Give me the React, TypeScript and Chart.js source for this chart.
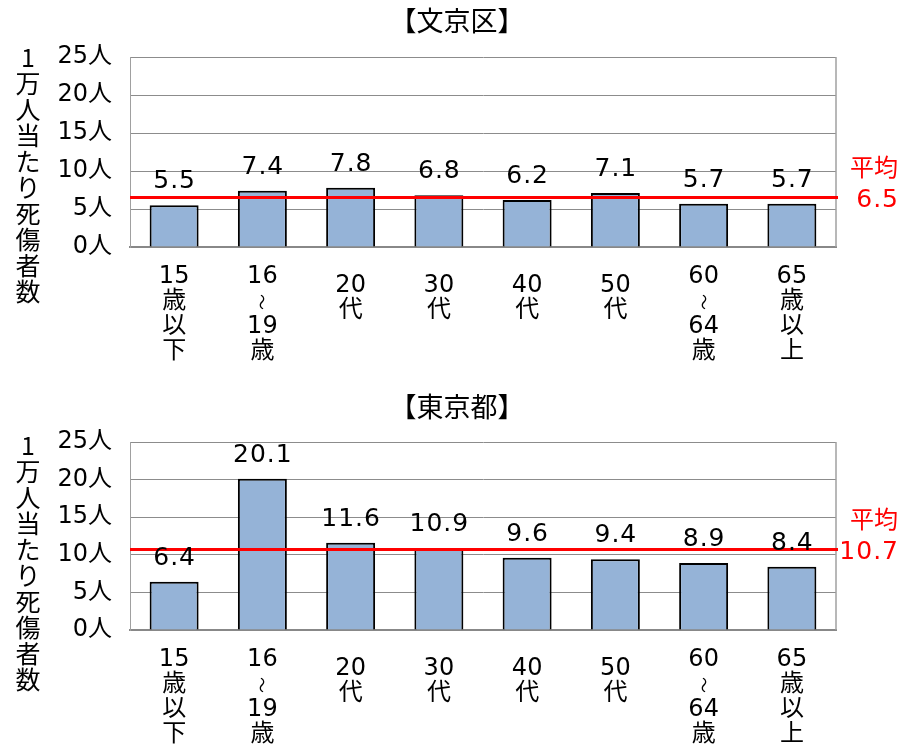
import React, { useEffect, useRef } from "react";
import { Chart, registerables } from "chart.js";

Chart.register(...registerables);

// ---- data ----
const categories: string[][] = [
  ["15", "歳", "以", "下"],
  ["16", "～", "19", "歳"],
  ["20", "代"],
  ["30", "代"],
  ["40", "代"],
  ["50", "代"],
  ["60", "～", "64", "歳"],
  ["65", "歳", "以", "上"],
];
const bunkyoValues = [5.5, 7.4, 7.8, 6.8, 6.2, 7.1, 5.7, 5.7];
const tokyoValues = [6.4, 20.1, 11.6, 10.9, 9.6, 9.4, 8.9, 8.4];
const bunkyoAverage = 6.5;
const tokyoAverage = 10.7;
const yTickValues = [0, 5, 10, 15, 20, 25];
const yTickUnit = "人";
const yTitleChars = ["1", "万", "人", "当", "た", "り", "死", "傷", "者", "数"];
const averageLabel = "平均";
const bunkyoTitle = "【文京区】";
const tokyoTitle = "【東京都】";

// ---- styles ----
const W = 902;
const LATIN = '"DejaVu Sans", "Noto Sans CJK JP", sans-serif';
const CJK = '"Noto Sans CJK JP", sans-serif';
const TEXT = "#000000";
const RED = "#FF0000";

type PanelProps = {
  title: string;
  values: number[];
  average: number;
  height: number;
  plotTop: number;
  plotBottom: number;
  titleY: number;
  yTitleY: number;
};

function drawSpaced(ctx: any, text: string, x: number, y: number, spacing: number) {
  ctx.save();
  ctx.letterSpacing = `${spacing}px`;
  let dx = 0;
  if (ctx.textAlign === "center") dx = spacing / 2;
  if (ctx.textAlign === "right") dx = spacing;
  ctx.fillText(text, x + dx, y);
  ctx.restore();
}

function Panel(p: PanelProps) {
  const ref = useRef<HTMLCanvasElement | null>(null);
  useEffect(() => {
    const canvas = ref.current;
    if (!canvas) return;
    const extras = {
      id: "extras",
      beforeDatasetsDraw(chart: any) {
        const { ctx, chartArea } = chart;
        ctx.save();
        ctx.strokeStyle = "#A0A0A0";
        ctx.lineWidth = 1.5;
        ctx.beginPath();
        ctx.moveTo(chartArea.right, chartArea.top);
        ctx.lineTo(chartArea.right, chartArea.bottom);
        ctx.stroke();
        ctx.restore();
      },
      afterDatasetsDraw(chart: any) {
        const { ctx, chartArea } = chart;
        const yScale = chart.scales.y;
        const xScale = chart.scales.x;
        ctx.save();
        // average line
        const ly = yScale.getPixelForValue(p.average);
        ctx.strokeStyle = RED;
        ctx.lineWidth = 3;
        ctx.beginPath();
        ctx.moveTo(chartArea.left, ly);
        ctx.lineTo(chartArea.right + 2, ly);
        ctx.stroke();
        // average labels
        ctx.fillStyle = RED;
        ctx.textAlign = "right";
        ctx.textBaseline = "middle";
        ctx.font = `24px ${CJK}`;
        ctx.fillText(averageLabel, 898, ly - 31);
        ctx.textBaseline = "alphabetic";
        ctx.font = `25px ${LATIN}`;
        drawSpaced(ctx, p.average.toFixed(1), 898, ly + 9, 1);
        // data labels
        const meta = chart.getDatasetMeta(0);
        ctx.fillStyle = TEXT;
        ctx.textAlign = "center";
        ctx.textBaseline = "alphabetic";
        ctx.font = `25px ${LATIN}`;
        meta.data.forEach((el: any, i: number) => {
          drawSpaced(ctx, p.values[i].toFixed(1), el.x, el.y - 17, 1);
        });
        // x labels (vertical stacked)
        categories.forEach((lines, i) => {
          const x = xScale.getPixelForTick(i);
          const start = chartArea.bottom + (lines.length <= 2 ? 45 : 36);
          lines.forEach((t, j) => {
            const y = start + j * 25;
            if (t === "～") {
              ctx.save();
              ctx.translate(x, y - 6);
              ctx.rotate(Math.PI / 2);
              ctx.font = `16px ${CJK}`;
              ctx.textAlign = "center";
              ctx.textBaseline = "middle";
              ctx.fillText(t, 0, 0);
              ctx.restore();
            } else {
              ctx.font = `24px ${LATIN}`;
              ctx.textAlign = "center";
              ctx.textBaseline = "alphabetic";
              ctx.fillText(t, x, y);
            }
          });
        });
        // chart title
        ctx.font = `27px ${CJK}`;
        ctx.textAlign = "center";
        ctx.textBaseline = "middle";
        ctx.fillText(p.title, 457, p.titleY);
        // y axis title (stacked)
        ctx.font = `25px ${CJK}`;
        yTitleChars.forEach((c, j) => {
          ctx.fillText(c, 28, p.yTitleY + j * 26);
        });
        ctx.restore();
      },
    };

    const chart = new Chart(canvas, {
      type: "bar",
      data: {
        labels: categories.map((l) => l.join("")),
        datasets: [
          {
            data: p.values,
            backgroundColor: "#95B3D7",
            borderColor: "#000000",
            borderWidth: 2,
            barPercentage: 0.555,
            categoryPercentage: 1,
          },
        ],
      },
      options: {
        responsive: false,
        animation: false,
        devicePixelRatio: 1,
        layout: {
          padding: { top: p.plotTop, left: 0, right: W - 836, bottom: 0 },
        },
        plugins: {
          legend: { display: false },
          title: { display: false },
          tooltip: { enabled: false },
        },
        scales: {
          x: {
            grid: { display: false, drawTicks: false },
            border: { display: true, color: "#888888", width: 2 },
            ticks: { display: false },
            afterFit: (scale: any) => {
              scale.height = p.height - p.plotBottom;
            },
          },
          y: {
            min: 0,
            max: 25,
            grid: { color: "#8C8C8C", lineWidth: 1, drawTicks: false },
            border: { display: true, color: "#A0A0A0", width: 1 },
            afterBuildTicks: (scale: any) => {
              scale.ticks = yTickValues.map((v) => ({ value: v }));
            },
            ticks: {
              padding: 18,
              color: TEXT,
              font: { family: LATIN, size: 24 },
              callback: (v: any) => `${v}${yTickUnit}`,
            },
            afterFit: (scale: any) => {
              scale.width = 130;
            },
          },
        },
      },
      plugins: [extras],
    } as any);
    return () => chart.destroy();
  }, []);
  return <canvas ref={ref} width={W} height={p.height} style={{ display: "block" }} />;
}

export default function App() {
  return (
    <div style={{ position: "absolute", left: 0, top: 0, width: W, height: 749, background: "#fff" }}>
      <Panel
        title={bunkyoTitle}
        values={bunkyoValues}
        average={bunkyoAverage}
        height={384}
        plotTop={57}
        plotBottom={247}
        titleY={21}
        yTitleY={57}
      />
      <Panel
        title={tokyoTitle}
        values={tokyoValues}
        average={tokyoAverage}
        height={365}
        plotTop={58}
        plotBottom={246}
        titleY={23}
        yTitleY={61}
      />
    </div>
  );
}
